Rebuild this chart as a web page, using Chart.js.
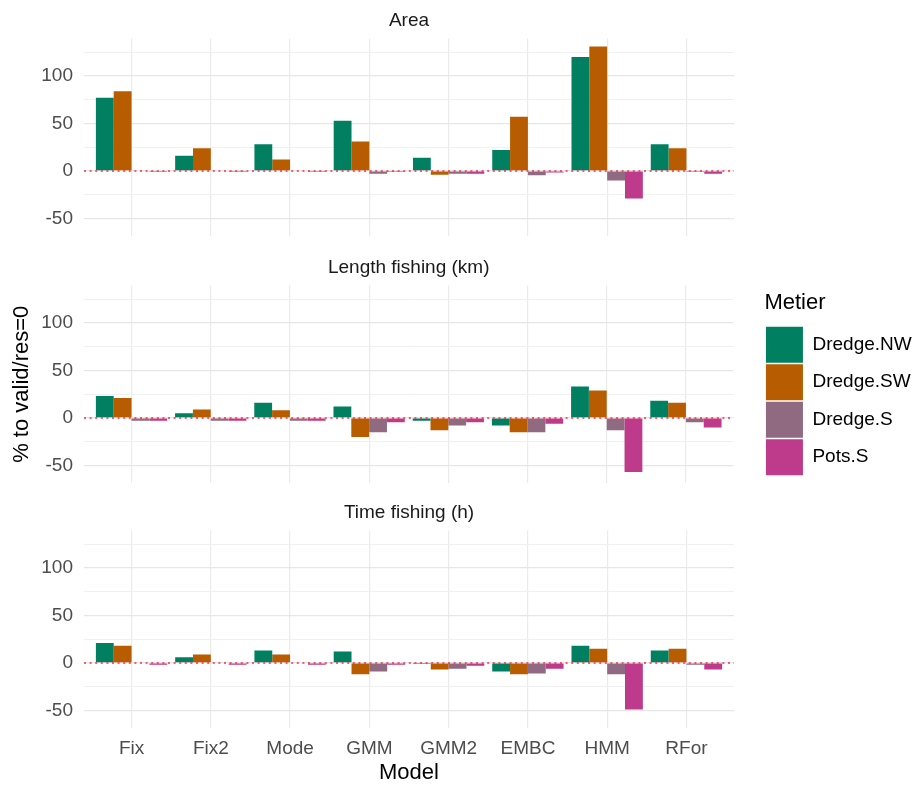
<!DOCTYPE html>
<html><head><meta charset="utf-8">
<script src="https://cdn.jsdelivr.net/npm/chart.js@4.4.0/dist/chart.umd.min.js"></script>
<style>
html,body{margin:0;padding:0;background:#fff;width:921px;height:786px;overflow:hidden;position:relative;}
canvas{position:absolute;left:0;}
</style></head><body>
<canvas id="c1" width="921" height="245" style="top:-2px"></canvas>
<canvas id="c2" width="921" height="245" style="top:245px"></canvas>
<canvas id="c3" width="921" height="296" style="top:490px"></canvas>
<script>
// ---------- data ----------
const categories = ['Fix','Fix2','Mode','GMM','GMM2','EMBC','HMM','RFor'];
const metiers = ['Dredge.NW','Dredge.SW','Dredge.S','Pots.S'];
const facetTitles = ['Area','Length fishing (km)','Time fishing (h)'];

const areaNW   = [77, 16, 28, 53, 14, 22, 120, 28];
const areaSW   = [84, 24, 12, 31, -4, 57, 131, 24];
const areaS    = [-0.6, -0.6, -0.6, -3, -3, -4.5, -10, -1];
const areaPots = [-1, -1, -1, -1, -3, -1.5, -29, -3];

const lengthNW   = [23, 5, 16, 12, -3, -8, 33, 18];
const lengthSW   = [21, 9, 8, -20, -13, -15, 29, 16];
const lengthS    = [-3, -3, -3, -15, -8, -15, -13, -4.5];
const lengthPots = [-3, -3, -3, -4.5, -4.5, -6, -57, -10];

const timeNW   = [21, 6, 13, 12, -1, -9, 18, 13];
const timeSW   = [18, 9, 9, -12, -7, -12, 15, 15];
const timeS    = [-0.5, -0.5, -0.5, -9, -6, -11, -12, -2];
const timePots = [-2, -2, -2, -2, -3, -6, -49, -7];

const yGridValues = [-50, -25, 0, 25, 50, 75, 100, 125];
const yLabelValues = [-50, 0, 50, 100];
const yMin = -68.5, yMax = 139.5;
const refLineValue = 0;

// ---------- style ----------
const colors = ['#008060', '#b85c00', '#8f6a80', '#be3a8a'];
const FONT = "'Liberation Sans', Arial, sans-serif";
Chart.defaults.font.family = FONT;
Chart.defaults.color = '#4d4d4d';

const PLOT_LEFT = 84, PLOT_RIGHT = 734, W = 921;

const zeroLine = {
  id: 'zeroLine',
  afterDatasetsDraw(chart) {
    const y = chart.scales.y.getPixelForValue(refLineValue);
    const {left, right} = chart.chartArea;
    const ctx = chart.ctx;
    ctx.save();
    ctx.strokeStyle = '#ff2a4a';
    ctx.lineWidth = 1.6;
    ctx.setLineDash([2, 3.6]);
    ctx.beginPath();
    ctx.moveTo(left, y);
    ctx.lineTo(right, y);
    ctx.stroke();
    ctx.restore();
  }
};

function makeDatasets(series) {
  return series.map((vals, k) => ({
    label: metiers[k],
    data: vals.map((v, i) => ({x: i, y: v})),
    backgroundColor: colors[k],
    borderColor: colors[k],
    borderWidth: 0,
    categoryPercentage: 0.9,
    barPercentage: 1.0
  }));
}

function noPad(s) { s.paddingTop = 0; s.paddingBottom = 0; s.paddingLeft = 0; s.paddingRight = 0; }

function makeConfig(idx, series, opts) {
  const isBottom = idx === 2;
  const isMiddle = idx === 1;
  const scales = {
    x: {
      type: 'linear',
      offset: false,
      min: -0.6, max: categories.length - 0.4,
      afterBuildTicks: s => { s.ticks = categories.map((c, i) => ({value: i})); },
      ticks: {
        display: isBottom,
        callback: v => categories[v],
        font: {size: 19}, color: '#4d4d4d', padding: 9,
        maxRotation: 0, autoSkip: false
      },
      grid: {color: '#ebebeb', lineWidth: 1.2, drawTicks: false, offset: false},
      border: {display: false},
      title: {display: isBottom, text: 'Model', font: {size: 22}, color: '#000', padding: {top: 0, bottom: 0}},
      afterFit: s => { s.height = isBottom ? 58 : 0; noPad(s); }
    },
    y: {
      min: yMin, max: yMax,
      afterBuildTicks: s => { s.ticks = yGridValues.map(v => ({value: v})); },
      ticks: {
        callback: v => yLabelValues.includes(v) ? String(v) : '',
        font: {size: 19}, color: '#4d4d4d', padding: 11
      },
      grid: {
        drawTicks: false,
        color: c => (c.tick && yLabelValues.includes(c.tick.value)) ? '#e6e6e6' : '#f0f0f0',
        lineWidth: c => (c.tick && yLabelValues.includes(c.tick.value)) ? 1.3 : 1
      },
      border: {display: false},
      title: {display: isMiddle, text: '% to valid/res=0', font: {size: 22}, color: '#000', padding: {top: 9, bottom: 0}},
      afterFit: s => { s.width = PLOT_LEFT; noPad(s); }
    }
  };
  if (isMiddle) {
    scales.spacer = {
      type: 'linear', position: 'right', display: true,
      ticks: {display: false}, grid: {display: false, drawTicks: false},
      border: {display: false},
      afterFit: s => { s.width = opts.spacer; noPad(s); }
    };
  }
  return {
    type: 'bar',
    data: {datasets: makeDatasets(series)},
    options: {
      responsive: false,
      animation: false,
      layout: {padding: {left: 0, top: 0, right: isMiddle ? opts.right : (W - PLOT_RIGHT), bottom: isBottom ? 0 : 7}},
      scales,
      plugins: {
        title: {
          display: true, text: facetTitles[idx], fullSize: false,
          font: {size: 19, weight: 'normal'}, color: '#1a1a1a',
          padding: {top: 11.6, bottom: 6.1}
        },
        legend: {
          display: isMiddle,
          position: 'right',
          align: 'center',
          fullSize: false,
          title: {display: true, text: 'Metier', position: 'start', font: {size: 22}, color: '#000', padding: {top: 0, bottom: 7}},
          labels: {boxWidth: 37, boxHeight: 36, padding: 1.5, font: {size: 19}, color: '#000'}
        },
        tooltip: {enabled: false}
      }
    },
    plugins: [zeroLine]
  };
}

const panelSeries = [
  [areaNW, areaSW, areaS, areaPots],
  [lengthNW, lengthSW, lengthS, lengthPots],
  [timeNW, timeSW, timeS, timePots]
];

new Chart(document.getElementById('c1'), makeConfig(0, panelSeries[0], {}));
const mid = {right: 7, spacer: 30};
const ch2 = new Chart(document.getElementById('c2'), makeConfig(1, panelSeries[1], mid));
// align middle panel plot & legend with the others
const dL = ch2.legend.left - 765;
mid.right += dL;
const areaRight = ch2.chartArea.right - dL;
mid.spacer += areaRight - PLOT_RIGHT;
ch2.options.layout.padding.right = mid.right;
ch2.update();
new Chart(document.getElementById('c3'), makeConfig(2, panelSeries[2], {}));
</script>
</body></html>
